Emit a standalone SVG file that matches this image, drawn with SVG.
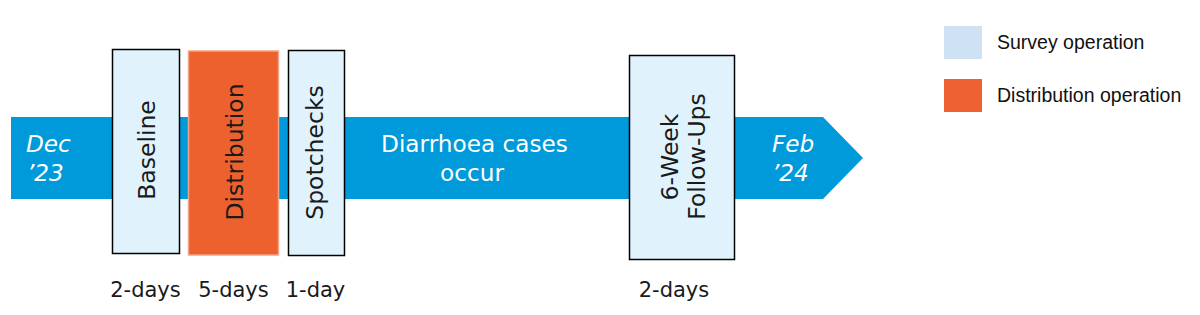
<svg xmlns="http://www.w3.org/2000/svg" width="1200" height="315" viewBox="0 0 1200 315">
<style>
.t{font-family:"DejaVu Sans","Open Sans",sans-serif;font-size:21px;fill:#1a1a1a}
.r{font-size:23.5px}
.w{font-family:"DejaVu Sans","Open Sans",sans-serif;font-size:23.2px;fill:#ffffff}
.i{font-style:italic}
.survey{fill:#e0f3fd;stroke:#000000;stroke-width:1.5}
.dist{fill:#ec612d;stroke:#f3a488;stroke-width:1.5}
.lg{font-family:"Liberation Sans",Arial,sans-serif;font-size:19.5px;fill:#111111}
</style>
<g id="timeline">
<path d="M11,117 H823 L863,158 L823,199 H11 Z" fill="#0099da"/>
<text class="w i" x="26" y="152">Dec</text>
<text class="w i" x="27" y="181">’23</text>
<text class="w" x="474.5" y="152" text-anchor="middle">Diarrhoea cases</text>
<text class="w" x="472" y="181" text-anchor="middle">occur</text>
<text class="w i" x="772" y="152">Feb</text>
<text class="w i" x="772" y="181">’24</text>
</g>
<g id="baseline">
<rect class="survey" x="112.5" y="49.5" width="67" height="204"/>
<text class="t r" transform="translate(155,150) rotate(-90)" text-anchor="middle">Baseline</text>
<text class="t" x="145.5" y="297" text-anchor="middle">2-days</text>
</g>
<g id="distribution">
<rect class="dist" x="188.5" y="51" width="90" height="204"/>
<text class="t r" transform="translate(243,152) rotate(-90)" text-anchor="middle">Distribution</text>
<text class="t" x="233.5" y="297" text-anchor="middle">5-days</text>
</g>
<g id="spotchecks">
<rect class="survey" x="288.5" y="50.5" width="56" height="205"/>
<text class="t r" transform="translate(323,152.5) rotate(-90)" text-anchor="middle">Spotchecks</text>
<text class="t" x="315.5" y="297" text-anchor="middle">1-day</text>
</g>
<g id="followups">
<rect class="survey" x="629.5" y="55.5" width="105" height="204"/>
<text class="t r" transform="translate(678,157) rotate(-90)" text-anchor="middle">6-Week</text>
<text class="t r" transform="translate(705,156.5) rotate(-90)" text-anchor="middle">Follow-Ups</text>
<text class="t" x="674" y="297" text-anchor="middle">2-days</text>
</g>
<g id="legend">
<rect x="944" y="26" width="38" height="33" fill="#cfe2f3"/>
<text class="lg" x="997" y="49">Survey operation</text>
<rect x="944" y="79" width="38" height="33" fill="#ee6231"/>
<text class="lg" x="997" y="102">Distribution operation</text>
</g>
<g id="connectors"/>
</svg>
